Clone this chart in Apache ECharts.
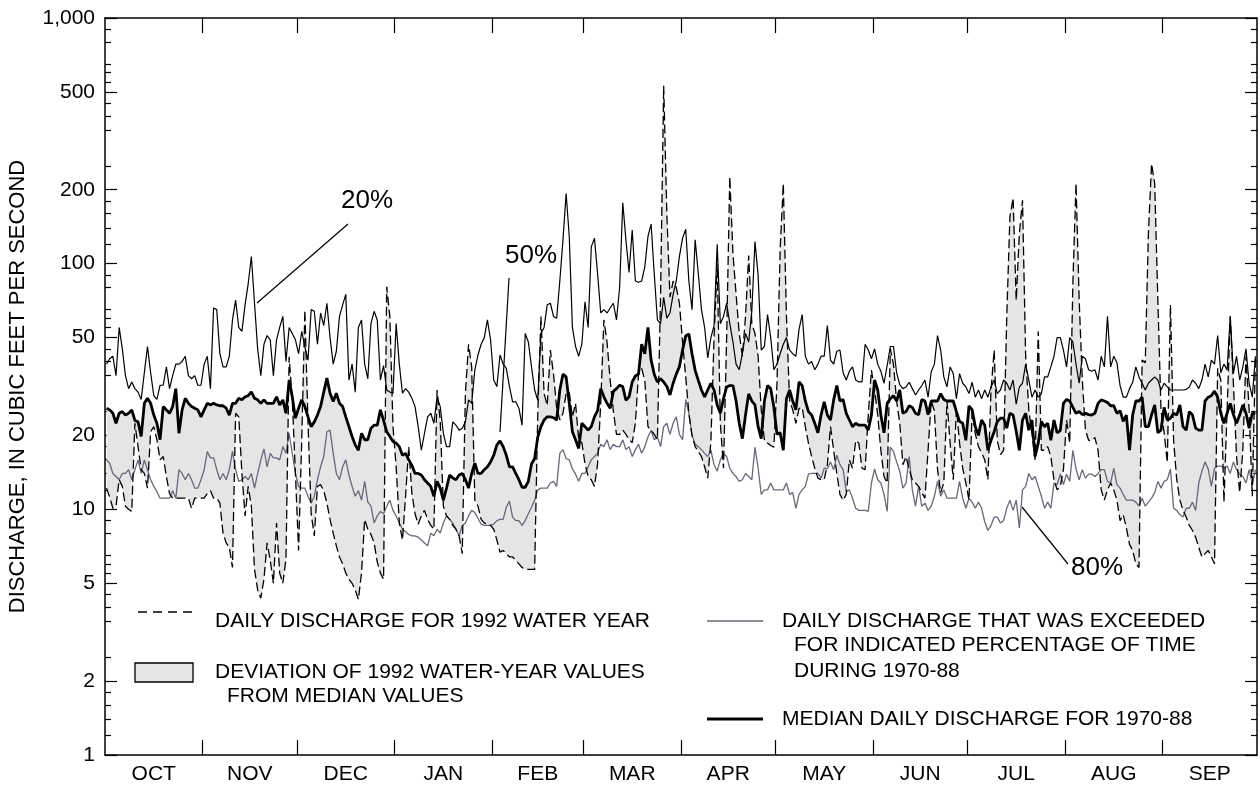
<!DOCTYPE html>
<html><head><meta charset="utf-8">
<script src="https://cdn.jsdelivr.net/npm/echarts@6/dist/echarts.min.js"></script>
<style>html,body{margin:0;padding:0;background:#fff}#chart{width:1260px;height:786px}</style>
</head><body><div id="chart"></div>
<script>
// Water year 1992: Oct 1991 - Sep 1992 (366 days)
const MONTHS = ['OCT','NOV','DEC','JAN','FEB','MAR','APR','MAY','JUN','JUL','AUG','SEP'];
const MONTH_DAYS = [31,30,31,31,29,31,30,31,30,31,31,30];

const Y_MAJOR = [1,2,5,10,20,50,100,200,500,1000];
const Y_MINOR_MULT = [1.2,1.4,1.6,1.8,2.5,3.5,4,4.5,5.5,6,6.5,8,9];
const Y_DECADES = [1,10,100];

// 20 percent exceedance (1970-88)
const pct20 = [
39,41,42,35,55,45,35,31,33,31, 30,28,36,46,36,29,28,32,32,38, 31,35,39,39,40,42,35,34,35,32,
32,39,42,31,66,65,43,38,38,42, 59,71,55,53,68,83,107,69,45,35, 47,51,49,35,49,55,61,40,55,52,
49,43,53,46,
40.5,65,64,47,63,56,69,50,39,44, 61,68,75,33.6,39,30,55,59,39,34, 57,64,59,33.6,38.5,30.6,30,29.7,57,39,
29.7,31,30,28.3,26.2,21.7,17.4,20.4,23.8,24.6, 22.4,28.7,26.2,20.4,18,18,22.7,22,21,21.4,
22.7,27.9,27,36.9,42.5,47,50,59,49,33.6, 31.6,42.5,39,
37.5,31.6,27.4,27.4,25.8,22,52,48,38,30.6, 27.8,52,55,68,69,61,60,85,125,193, 129,55,46,42,47,70,55,117,127,91,
63,65,63,66,69,59,80,177,125,92, 137,85,84,85,97,129,145,91,59,57, 73,60,63,75,85,107,127,138,85,65,
125,91,65,55,
41.3,50,56,120,57,61,69,57,48,39, 37,43,52,48,64,123,90,44.5,46,62, 50,37,39,43,47,50,44.5,43,42,54,
62,42,39,40,37,39,42,42,56,40.5, 39,44,44.5,36,33.6,36.5,38,33.6,33,33, 47,44.5,41,45,39,36.5,32.6,38.5,46,46,
36,32.2,31,
31.5,32.9,31,29.2,30.6,31.9,33.6,28.6,36.3,39, 51,44.5,34.6,31.5,38,35.7,28.2,35.7,32.6,31.5,
29.6,32.9,28.6,30.6,28.2,30.6,28.6,31.5,33.6,29.6, 30.6,33.6,32.6,30.6,33.6,26.8,31.5,32.6,39,33.6,
28.6,30.6,28.6,29.6,34.6,34.6,38,42,50,50, 44.5,38,50,48,39,32.6,42,41,37,36.5, 37,33.6,42,38,
61,38,42,39.5,31.9,28.6,28.6,31,32.9,38, 34.6,32.6,30.6,32.6,33.6,34.6,33.6,30.6,32.6,31.5,
30.6,30.6,30.6,30.6,30.6,30.8,31.5,33.6,32.6,31, 33.6,39,34.6,40.5,39,51,36,39,36.9,61,
35.7,42,33.6,38,45,32.6,28.6,42
];

// Median daily discharge (1970-88)
const median = [
25.8,25.4,24.6,22.4,24.6,25,24.2,24.6,25.4,23, 22.7,19.8,27,28.3,27,24.2,22.4,19.2,26.2,25.4,
24.6,26.2,31,20.4,25.4,28.3,27,26.2,25.8,25.4, 23.8,25.4,27,26.6,27,26.6,26.4,26.4,25.8,24.2,
27,27,28.3,27.9,28.7,29,30.1,28.3,27.9,27, 27.9,27,27,27,28.7,26.6,27.9,24.6,33.6,28.7, 23.5,25.8,27.9,26.2,
23.8,21.7,22.7,24.2,26.2,30,34.2,29.7,27.5,29.7, 27,26.2,23.8,21.7,19.8,18.3,17.4,20.4,19.2,19.2,
21.4,22,22,25.4,23,20.7,19.8,18.9,18.6,18, 16.6,16.9,15.9,15.1,14,14,13.8,13.2,12.8,12.4,
11.3,13,12.2,10.9,12.2,13.8,13.4,13.2,13.8,14, 13.2,12.2,14,15.4,14,14,14.5,14.9,15.6,16.6, 18.3,19,18,
16.6,14.9,14.9,14,13.2,12.3,12.3,13,15.3,16.1, 19.7,21.7,23.1,23.8,23.8,23.6,23.1,30.6,35.5,34.6,
27,20.7,19.2,17.7,22.4,21.7,21,21.7,23.8,25.2, 31,28.7,27,25.8,30.2,31,32,31.6,27.8,28.7,
33,34.9,35.5,47,43,55,40.5,35.5,33,34, 33,31.6,29.2,32.6,35.5,38.1,44.5,50.8,51.7,43, 36.8,33.5,30.6,28.7,
30.6,32.6,30.6,26.6,24.6,28.2,31.5,31.9,31.9,27.6, 22.4,19.4,24.2,29.5,27.6,26.6,21.7,19.4,27.6,31.9,
31,26.1,20.2,20.5,17.4,28.2,30.6,27.6,25.4,33, 31.9,27.6,25,24.2,22.4,20.5,24.2,27.4,24.2,23.1,
27.9,31.9,27.6,28,24.6,23.1,21.7,22.4,22,22, 22,21,24.2,33.6,30.6,24.2,20.5,27,28.2,29, 27.6,30.6,24.6,
25,26.4,26,24.6,24.3,28,27.6,24.3,27.6,27.6, 27.6,29.6,28,27.6,27.6,27.6,25,22.8,22.4,19.1,
26.4,25.4,21.7,20,23.1,22,17.4,19.1,20.7,22.8, 23.5,23.5,21.4,24.6,24.2,20.8,17.4,23.1,24.6,21,
23.1,16.4,18.6,22.8,21.7,22.4,19.1,23.1,20.5,20.9, 27,28,27.6,26,24.6,25,24.3,24.6,24.3,24.2, 24.6,27,27.9,27.6,
27.2,26.4,26.4,24.6,25.2,22.8,24.2,17.4,24.2,27.6, 27.6,28.6,21.7,21.7,24.2,26.6,20.5,21,26,23.1,
23.5,24.6,24.2,26.6,21.7,21,25,24.2,21.4,21, 21,27.6,28.6,29,30.3,28.6,24.6,22.4,24.6,27,
24.3,22.4,24.2,26.6,24.6,21.4,24.6,24.6
];

// Daily discharge, 1992 water year
const wy1992 = [
12.2,11.2,10.1,10.3,13.2,12.4,10.3,10,9.8,22.4, 18,14.5,14,12.2,20.7,21.7,19.2,15.9,16.4,13.6,
11.6,11.1,11.1,11.1,11.1,11.1,11.1,10.1,11.1,11.1, 11.1,11.1,11.6,11.9,11.1,11.1,10.6,8,7.3,7,
5.8,24.6,23.8,14,9.4,12.4,10.3,5.7,4.7,4.35, 5.2,7.3,6.2,5,8.8,5.5,5,6.3,41.8,27.9, 14,6.8,19,64.7,
22.4,9.6,7.8,12.4,12.6,11.9,10.6,9.1,8,7.1, 6.4,6,5.5,5.2,5,4.7,4.3,5.5,9.1,8.3,
7.9,7.3,6.1,5.5,5.2,80.6,61,21.7,14.9,8.8, 7.5,11.3,18,11.6,9.6,8.7,9.4,9.9,9.1,8.6,
8.3,30.6,23,10.3,9.4,9.1,8.6,8.3,7.8,6.6, 29.7,47,38,10.9,10.3,9.1,8.8,8.7,8.6,8.3, 7.5,6.7,6.8,
6.6,6.4,6.4,6.2,6,5.8,5.7,5.7,5.7,5.7, 24.6,61,29.6,26.5,44.5,35.5,25.8,23.1,24.6,29.6,
30,23.8,27,19.2,18.7,15.3,13.6,13.2,12.4,15.3, 27,59,48,33.5,25.2,20.2,20.2,21,20.2,19.2,
18.7,22.4,35.5,37.5,33.5,21.7,21,20.2,19.2,73, 530,160,73,85,80,69,48,34.6,24.6,20, 18,17.2,16.4,14.9,
13.4,18.9,50,100,22.4,14.7,50,226,110,75, 52,42,61,108,57,52,42,25.4,19.1,18.6,
18.2,17.9,32.6,114,212,61,27.6,25.4,22.4,25.7, 26,21.7,18.6,16.4,14.7,13.4,13.2,13.2,15.2,21.7,
17.4,14,11.5,10.9,11.5,15.9,14.7,19.1,18.6,14.7, 14.5,24.2,36.9,30.6,24.2,17.4,13.6,12.8,45,39, 27.6,22.4,15.2,
16.4,14.5,13.2,12.8,12.4,11.7,11.1,17.4,27.6,25.2, 14.5,11.7,12.8,27.6,18.6,13.2,25.7,18.6,14.7,12.8,
10.9,25,20.3,18,17,15.9,13.2,30.6,44.5,19, 16.7,17.4,61,155,185,71,133,181,42,25.4,
20.3,15.9,53,17.4,17.4,18,16.4,13.2,12,12.4, 14.5,23.1,18.6,83,212,71,33.6,21,19.1,19.1, 19.6,17.4,12,10.9,
12,12.8,12,10.9,9,9.5,8.4,7.2,6.8,6, 5.8,40.5,39.5,133,255,212,71,25.4,20.5,15.5,
68,19.1,13.2,10.9,9.9,9.3,8.6,8.2,7.7,7, 6.4,6.6,6.8,6.4,6,37.5,33.6,10.7,25.4,61,
32.6,16.4,11.7,17.4,42,25.4,11.3,42
];

// 80 percent exceedance (1970-88)
const pct80 = [
15.9,15.4,14,13.6,13.2,14,14,14.5,13.2,14.5, 15.9,14,15.9,14.5,13.2,12.4,11.8,11.1,11.1,11.1,
11.1,11.9,11.1,14.5,14,13.2,14,13.2,12.2,12.2, 13.2,14.5,17.2,16.2,16.2,14.5,13.2,14,13.2,14.5,
17.2,14.5,13,13.2,13.6,13.2,14,12.2,14,15.9, 17.6,14.9,16.9,16.2,16.2,15.9,18,16.9,20.4,16.9, 14,12.4,12.2,12.2,
11.3,10.6,11.3,13.2,14.9,16.4,20.7,21,16.9,14, 13.2,14.9,15.9,13.8,12.4,11.3,11.9,10.9,13,10.7,
10.3,8.8,9.4,9.8,9.6,10.3,10.9,9.9,9.4,8.8, 8.3,8.1,7.9,7.8,7.8,7.7,7.5,7.3,7.1,8,
7.8,8.3,8,8.8,9.4,9.1,8.8,8.3,7.8,8.6, 8.8,9.4,9.9,9.7,9.2,8.7,8.6,8.6,8.6,8.7, 9,9.1,9.1,
10.2,10.8,9.3,9,9,8.6,9,9.6,10.2,10.9, 12,12.2,12.2,12.2,12.8,13,12.4,16.9,17.5,16.1,
15.9,14.6,13.9,13,14,14,14.9,15.9,16.4,16.9, 18.4,18,19.2,17.5,18.4,18,18,19.2,17.5,18,
16.4,17.5,18.4,16.9,18,19.7,21,19.2,19.7,18, 21.7,22.4,20.2,22.4,23.8,20.2,19.2,28,24.6,20, 18.4,18,17.5,16.9,
16.4,17.4,15.2,14.3,15.9,16.9,16.4,14.7,14,13.6, 13,13.2,14,13.6,13.2,17.9,14.7,11.5,12,12,
12.8,12,12,12,12,12.8,11.5,11.7,10.1,11.5, 12,12.4,13.9,14,14,14,13.4,14.7,14.6,15.6,
14.5,16.6,15.2,14.5,11.8,12,11.1,10.1,9.9,9.9, 9.9,9.8,12.8,14.6,13.2,12.8,11.5,9.8,17.9,17.2, 15.6,14.3,12.2,
12.8,16.4,12,10.3,12.4,10.3,10.6,9.9,10.3,11.3, 13,11.3,12,11.1,11.1,11.1,11.1,13,11.1,10.1,
11.1,10.7,10.1,10.7,10.1,8.9,8.2,8.6,9.3,9.3, 8.8,9,10.1,10.9,9.9,10.9,8.4,12,12.4,14,
13.2,13.6,12.4,11.3,10.1,10.7,10.1,12.8,12.6,13.9, 12.6,13.9,13,17.4,14.6,13.2,14.5,13.4,13.9,13.9, 13.6,14,14.5,14.5,
13,12.8,14.7,12.6,12.2,11.5,10.9,10.9,10.9,10.7, 10.3,11.1,10.3,10.7,11.1,11.7,13,12.2,13,13.2,
14.6,10.1,9.9,9.5,9.3,10.1,10.1,10.7,9.9,12.8, 14.3,15.6,14.6,12.4,14.7,15,15,14.7,15,14,
15.6,14.5,13.9,13.6,12.8,14.5,12.6,14.5
];

// ---- derived helpers ----
const FONT = '"Liberation Sans", Arial, Helvetica, sans-serif';
const FS = 21;
const N = wy1992.length;
const TOTAL_DAYS = MONTH_DAYS.reduce((a, b) => a + b, 0);
const monthBounds = [], monthMids = [];
let acc = 0;
MONTH_DAYS.forEach((d, i) => { monthMids.push(acc + d / 2); acc += d; if (i < MONTH_DAYS.length - 1) monthBounds.push(acc); });
const yMinor = [];
Y_DECADES.forEach(dec => Y_MINOR_MULT.forEach(m => yMinor.push(+(m * dec).toPrecision(3))));
const toXY = arr => arr.map((v, i) => [i + 0.5, v]);

function monthName(v) {
  let best = 0, bd = 1e9;
  monthMids.forEach((m, i) => { const d = Math.abs(m - v); if (d < bd) { bd = d; best = i; } });
  return MONTHS[best];
}

const lineCol = '#000';
const grayCol = '#6c6677';
const fillCol = '#e5e5e5';

function xAxisDef(pos, showLabel) {
  return {
    type: 'value', position: pos, min: 0, max: TOTAL_DAYS,
    splitLine: { show: false },
    axisLine: { show: true, onZero: false, lineStyle: { color: lineCol, width: 1.5 } },
    axisTick: { show: true, inside: true, length: 15, customValues: monthBounds, lineStyle: { color: lineCol, width: 1.2 } },
    axisLabel: { show: showLabel, customValues: monthMids, formatter: v => monthName(v),
                 color: '#000', fontSize: FS, fontFamily: FONT, margin: 9 }
  };
}
function yAxisDef(pos, major, showLine, showLabel, extra) {
  return Object.assign({
    type: 'log', logBase: 10, min: 1, max: 1000, position: pos,
    splitLine: { show: false },
    axisLine: { show: showLine, onZero: false, lineStyle: { color: lineCol, width: 1.5 } },
    axisTick: { show: true, inside: true, length: major ? 12 : 6, customValues: major ? Y_MAJOR : yMinor,
                lineStyle: { color: lineCol, width: 1.2 } },
    axisLabel: { show: showLabel, customValues: Y_MAJOR, formatter: v => Number(v).toLocaleString('en-US'),
                 color: '#000', fontSize: FS, fontFamily: FONT, margin: 10 }
  }, extra || {});
}

const chart = echarts.init(document.getElementById('chart'), null, { renderer: 'canvas' });
const txt = (text, x, y, size, align) => ({
  type: 'text', x: x, y: y, silent: true,
  style: { text: text, font: (size || FS) + 'px ' + FONT, fill: '#000', textAlign: align || 'left', textVerticalAlign: 'middle' }
});
const seg = (x1, y1, x2, y2, stroke, w, dash) => ({
  type: 'line', silent: true, shape: { x1, y1, x2, y2 },
  style: { stroke: stroke, lineWidth: w, lineDash: dash || null }
});

chart.setOption({
  animation: false,
  backgroundColor: '#fff',
  grid: { left: 105, right: 3, top: 18, bottom: 31, outerBoundsMode: 'none' },
  xAxis: [xAxisDef('bottom', true), xAxisDef('top', false)],
  yAxis: [
    yAxisDef('left', true, true, true, {
      name: 'DISCHARGE, IN CUBIC FEET PER SECOND', nameLocation: 'middle', nameGap: 76, nameRotate: 90,
      nameTextStyle: { color: '#000', fontSize: 22, fontFamily: FONT }
    }),
    yAxisDef('left', false, false, false),
    yAxisDef('right', true, true, false),
    yAxisDef('right', false, false, false)
  ],
  series: [
    {
      type: 'custom', xAxisIndex: 0, yAxisIndex: 0, z: 1, silent: true,
      data: [[0.5, 10]],
      renderItem: function (params, api) {
        const pts = [];
        for (let i = 0; i < N; i++) pts.push(api.coord([i + 0.5, wy1992[i]]));
        for (let i = N - 1; i >= 0; i--) pts.push(api.coord([i + 0.5, median[i]]));
        return { type: 'polygon', shape: { points: pts }, style: { fill: fillCol, stroke: null } };
      }
    },
    { name: '80%', type: 'line', data: toXY(pct80), symbol: 'none', z: 2,
      lineStyle: { color: grayCol, width: 1.3 } },
    { name: '20%', type: 'line', data: toXY(pct20), symbol: 'none', z: 3,
      lineStyle: { color: '#000', width: 1.2 } },
    { name: '1992', type: 'line', data: toXY(wy1992), symbol: 'none', z: 4,
      lineStyle: { color: '#000', width: 1.3, type: [9, 4] } },
    { name: 'median', type: 'line', data: toXY(median), symbol: 'none', z: 5,
      lineStyle: { color: '#000', width: 2.8 } }
  ],
  graphic: [
    // annotations
    txt('20%', 367, 201, 26, 'center'),
    seg(257, 303, 348, 224, '#000', 1.2),
    txt('50%', 531, 256, 26, 'center'),
    seg(509, 278, 500, 432, '#000', 1.2),
    txt('80%', 1097, 568, 26, 'center'),
    seg(1022, 507, 1068, 564, '#000', 1.2),
    // legend (left)
    seg(138, 612, 195, 612, '#000', 1.3, [9, 6]),
    txt('DAILY DISCHARGE FOR 1992 WATER YEAR', 215, 621),
    { type: 'rect', silent: true, shape: { x: 135, y: 663, width: 58, height: 19 },
      style: { fill: fillCol, stroke: '#000', lineWidth: 1.3 } },
    txt('DEVIATION OF 1992 WATER-YEAR VALUES', 215, 672),
    txt('FROM MEDIAN VALUES', 227, 696),
    // legend (right)
    seg(707, 621, 763, 621, grayCol, 1.5),
    txt('DAILY DISCHARGE THAT WAS EXCEEDED', 782, 621),
    txt('FOR INDICATED PERCENTAGE OF TIME', 794, 645),
    txt('DURING 1970-88', 794, 671),
    seg(707, 719, 763, 719, '#000', 2.8),
    txt('MEDIAN DAILY DISCHARGE FOR 1970-88', 782, 719)
  ]
});
</script></body></html>
